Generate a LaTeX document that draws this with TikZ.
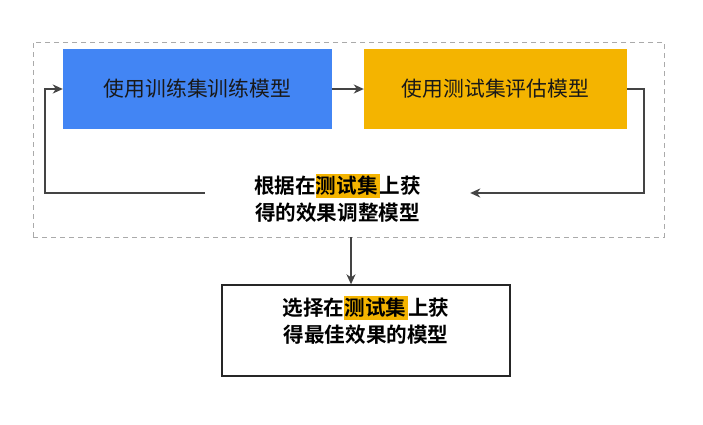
\documentclass[tikz,border=0pt]{standalone}
\usepackage{fontspec}
\newfontfamily\cjk[BoldFont={Noto Sans CJK SC Bold}]{Noto Sans CJK SC}
\usetikzlibrary{arrows.meta,calc}
\definecolor{gblue}{HTML}{4285F4}
\definecolor{gyellow}{HTML}{F4B400}
\definecolor{lineg}{HTML}{444444}
\definecolor{dashg}{HTML}{AAAAAA}
\newcommand{\hlx}[1]{{\setlength\fboxsep{0pt}\colorbox{gyellow}{\rule[-0.22em]{0pt}{1.18em}#1\hspace{2pt}}}}
\tikzset{
  stepbox/.style={minimum width=269pt, minimum height=80pt, inner sep=0pt, font=\cjk\fontsize{20.8}{26}\selectfont, text=black!90},
  lbl/.style={align=center, inner ysep=0pt, font=\cjk\bfseries\fontsize{20.6}{27}\selectfont, text=black},
  arr/.style={draw=lineg, line width=1.5pt, -{Stealth[length=10pt,width=9pt,inset=3pt]}},
}
\begin{document}
\begin{tikzpicture}[x=1pt,y=-1pt]
\useasboundingbox[fill=white] (0,0) rectangle (703,424);
\node (frame) [draw=dashg, line width=1pt, dash pattern=on 5pt off 4pt, minimum width=631pt, minimum height=195pt, inner sep=0pt] at (348.5,139.5) {};
\node (b1) [stepbox, fill=gblue] at (197.5,89) {使用训练集训练模型};
\node (b2) [stepbox, fill=gyellow, minimum width=263pt] at (495.5,89) {使用测试集评估模型};
\node (fb) [lbl, inner xsep=0pt, minimum width=265pt] at (337.5,198) {根据在\hlx{测试集}上获\\得的效果调整模型};
\node (final) [draw=black!85, line width=1.4pt, minimum width=288pt, minimum height=91pt, inner sep=0pt] at (366,330.5) {};
\node (ft) [lbl] at (366,320) {选择在\hlx{测试集}上获\\得最佳效果的模型};
\coordinate (c2) at (644,193);
\coordinate (c3) at (45,193);
\coordinate (d) at (351,237);
\draw[arr] (b1.east) -- (b2.west);
\draw[arr] (b2.east) -| (c2) -- (fb.east |- c2);
\draw[arr] (fb.west |- c3) -- (c3) |- (b1.west);
\draw[arr] (d) -- (d |- final.north);
\end{tikzpicture}
\end{document}
